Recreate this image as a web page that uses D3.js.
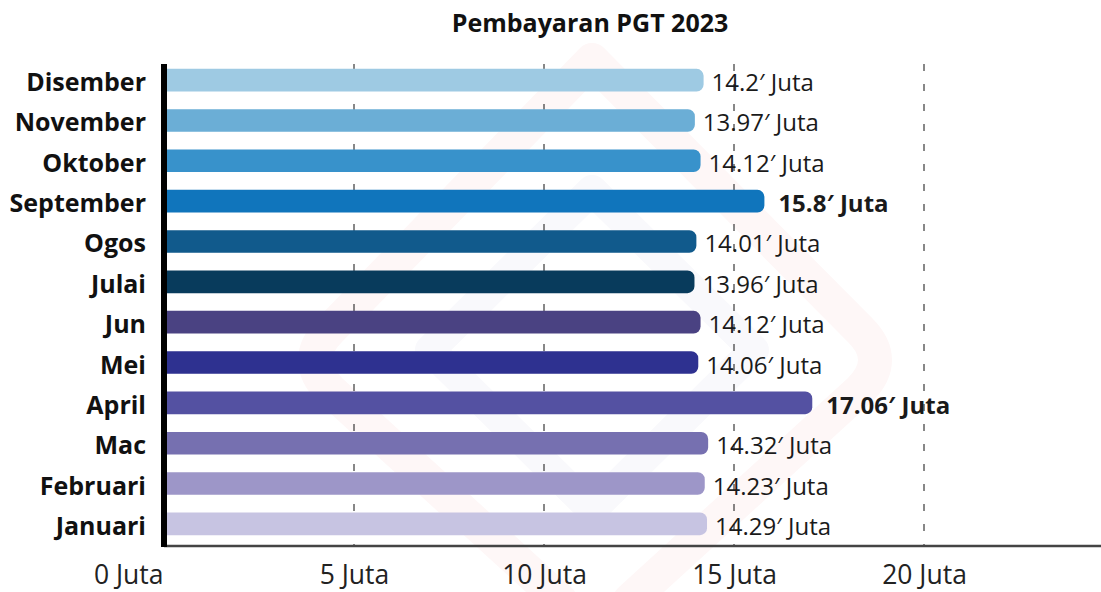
<!DOCTYPE html>
<html>
<head>
<meta charset="utf-8">
<script src="https://cdn.jsdelivr.net/npm/d3@7"></script>
<style>
  html, body { margin: 0; padding: 0; background: #fff; }
  svg { display: block; font-family: "Open Sans", "Noto Sans", sans-serif; }
</style>
</head>
<body>
<svg id="chart" width="1101" height="592"></svg>
<script>
// Monthly PGT payments, 2023 (in millions, "Juta")
const months = ["Disember", "November", "Oktober", "September", "Ogos", "Julai",
                "Jun", "Mei", "April", "Mac", "Februari", "Januari"];
const payments = [14.2, 13.97, 14.12, 15.8, 14.01, 13.96, 14.12, 14.06, 17.06, 14.32, 14.23, 14.29];
const barColors = ["#9ecae3", "#6baed6", "#3892cb", "#1075bc", "#115a8c", "#083b5c",
                   "#4a4282", "#2e3190", "#5451a2", "#7670b0", "#9d96c8", "#c7c4e2"];
const highlighted = ["September", "April"];
const tickValues = [0, 5, 10, 15, 20];
const unit = "Juta";
const title = "Pembayaran PGT 2023";

const W = 1101, H = 592;
const svg = d3.select("#chart");

const x = d3.scaleLinear().domain([0, 20]).range([164, 924]);
const y = d3.scaleBand().domain(months).range([64, 540])
  .paddingInner(0.44).paddingOuter(0.12);

const axisY = 546;

// faint background logo
const wm = svg.append("g").attr("class", "watermark");
wm.append("path")
  .attr("d", "M592,60 L330,330 Q300,360 330,390 L560,600 M592,60 L860,330 Q890,360 860,390 L630,600")
  .attr("fill", "none").attr("stroke", "#fef7f7").attr("stroke-width", 34)
  .attr("stroke-linejoin", "round").attr("stroke-linecap", "round");
wm.append("path")
  .attr("d", "M592,190 L430,350 L592,510 L754,350 Z")
  .attr("fill", "none").attr("stroke", "#f9f9fc").attr("stroke-width", 30)
  .attr("stroke-linejoin", "round");

// dashed vertical gridlines
svg.append("g").selectAll("line")
  .data(tickValues.filter(d => d > 0))
  .join("line")
  .attr("x1", d => x(d)).attr("x2", d => x(d))
  .attr("y1", 64).attr("y2", axisY)
  .attr("stroke", "#111").attr("stroke-width", 1)
  .attr("stroke-dasharray", "7,13");

// bars with rounded right ends
const r = 7;
function barPath(v, name) {
  const x0 = x(0), x1 = x(v), y0 = y(name), h = y.bandwidth();
  return `M${x0},${y0} H${x1 - r} A${r},${r} 0 0 1 ${x1},${y0 + r} V${y0 + h - r} ` +
         `A${r},${r} 0 0 1 ${x1 - r},${y0 + h} H${x0} Z`;
}
svg.append("g").selectAll("path")
  .data(months)
  .join("path")
  .attr("d", (m, i) => barPath(payments[i], m))
  .attr("fill", (m, i) => barColors[i]);

// value labels
svg.append("g").selectAll("text")
  .data(months)
  .join("text")
  .attr("x", (m, i) => x(payments[i]) + (highlighted.includes(m) ? 14 : 8))
  .attr("y", m => y(m) + y.bandwidth() / 2 + 11)
  .attr("font-size", 24)
  .attr("font-weight", m => highlighted.includes(m) ? 700 : 400)
  .attr("fill", "#1a1a1a")
  .text((m, i) => `${payments[i]}\u2032 ${unit}`);

// category labels
svg.append("g").selectAll("text")
  .data(months)
  .join("text")
  .attr("x", 146)
  .attr("y", m => y(m) + y.bandwidth() / 2 + 11)
  .attr("text-anchor", "end")
  .attr("font-size", 25)
  .attr("font-weight", 700)
  .attr("fill", "#111")
  .text(m => m);

// x axis
const xAxis = svg.append("g")
  .attr("transform", `translate(0,${axisY})`)
  .call(d3.axisBottom(x).tickValues(tickValues).tickSize(0).tickPadding(19)
    .tickFormat(d => `${d} ${unit}`));
xAxis.select(".domain").remove();
xAxis.selectAll("text")
  .attr("font-family", "'Open Sans', sans-serif")
  .attr("font-size", 26.5)
  .attr("fill", "#222");
xAxis.selectAll(".tick").filter(d => d === 0).select("text")
  .attr("text-anchor", "end").attr("x", -1);

svg.append("line")
  .attr("x1", x(0)).attr("x2", W)
  .attr("y1", axisY).attr("y2", axisY)
  .attr("stroke", "#444").attr("stroke-width", 2.5);

// y axis
svg.append("line")
  .attr("x1", x(0)).attr("x2", x(0))
  .attr("y1", 64).attr("y2", axisY + 1)
  .attr("stroke", "#000").attr("stroke-width", 6);

// title
svg.append("text")
  .attr("x", 590).attr("y", 32)
  .attr("text-anchor", "middle")
  .attr("font-size", 25).attr("font-weight", 700)
  .attr("fill", "#111")
  .text(title);
</script>
</body>
</html>
